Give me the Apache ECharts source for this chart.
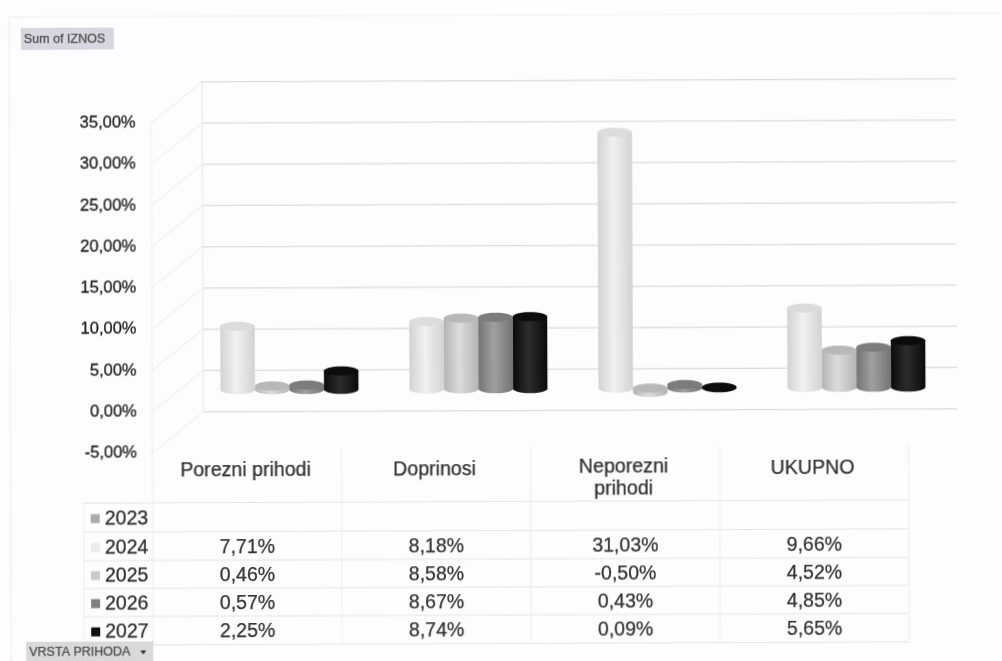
<!DOCTYPE html>
<html>
<head>
<meta charset="utf-8">
<style>
html,body{margin:0;padding:0;background:#fefcfe;overflow:hidden}
#c{width:1002px;height:661px;transform:rotate(-0.23deg);transform-origin:501px 330px;filter:blur(0.7px)}
</style>
<script src="https://cdn.jsdelivr.net/npm/echarts@6/dist/echarts.min.js"></script>
</head>
<body>
<div id="c"></div>
<script>
const categories = ['Porezni prihodi', 'Doprinosi', 'Neporezni\nprihodi', 'UKUPNO'];
const years = ['2023', '2024', '2025', '2026', '2027'];
const values2023 = [null, null, null, null];
const values2024 = [7.71, 8.18, 31.03, 9.66];
const values2025 = [0.46, 8.58, -0.50, 4.52];
const values2026 = [0.57, 8.67, 0.43, 4.85];
const values2027 = [2.25, 8.74, 0.09, 5.65];
const tickValues = [-5, 0, 5, 10, 15, 20, 25, 30, 35];
const allValues = [values2023, values2024, values2025, values2026, values2027];

const swatch = ['#ababab', '#ececec', '#cbcbcb', '#7f7f7f', '#0e0e0e'];
const bodyEdge = ['#999', '#d2d2d4', '#b4b4b4', '#737373', '#0a0a0a'];
const bodyMid = ['#bbb', '#f1f1f3', '#dcdcdc', '#a0a0a0', '#2c2c2c'];
const capCol = ['#aaa', '#dcdcde', '#b8b8b8', '#7c7c7c', '#0c0c0c'];

const fmt = v => v.toFixed(2).replace('.', ',') + '%';
const barDx = 25.5, barDy = -21.5, slot = 34.5, ry = 4.5;
const wallDx = 51, wallDy = -41;

function barSeries(i) {
  return {
    type: 'custom', name: years[i], z: 5 + i, silent: true, clip: false,
    data: allValues[i].map((v, k) => [k, v]),
    encode: { x: 0, y: 1 },
    renderItem(params, api) {
      const v = api.value(1);
      if (v === null || isNaN(v)) return null;
      const cat = api.value(0);
      const cx = api.coord([cat, 0])[0];
      const y0 = api.coord([cat, 0])[1] + barDy;
      const yv = api.coord([cat, v])[1] + barDy;
      const x = cx + barDx - slot * 2.5 + i * slot;
      const top = Math.min(y0, yv), bot = Math.max(y0, yv);
      const fill = new echarts.graphic.LinearGradient(0, 0, 1, 0, [
        { offset: 0, color: bodyEdge[i] }, { offset: 0.45, color: bodyMid[i] }, { offset: 1, color: bodyEdge[i] }
      ]);
      return { type: 'group', children: [
        { type: 'ellipse', shape: { cx: x + slot / 2, cy: bot, rx: slot / 2, ry }, style: { fill } },
        { type: 'rect', shape: { x, y: top, width: slot, height: bot - top }, style: { fill } },
        { type: 'ellipse', shape: { cx: x + slot / 2, cy: top, rx: slot / 2, ry }, style: { fill: capCol[i] } }
      ] };
    }
  };
}

const wallSeries = {
  type: 'custom', name: 'walls', z: 1, silent: true, clip: false,
  data: tickValues.map(t => [0, t]),
  encode: { y: 1 },
  renderItem(params, api) {
    const cs = params.coordSys;
    const y = api.coord([0, api.value(1)])[1];
    const xF = cs.x, xB = cs.x + wallDx, xR = cs.x + cs.width + wallDx - 2;
    const kids = [
      { type: 'line', shape: { x1: xF, y1: y, x2: xB, y2: y + wallDy }, style: { stroke: '#ececec', lineWidth: 1 } },
      { type: 'line', shape: { x1: xB, y1: y + wallDy, x2: xR, y2: y + wallDy }, style: { stroke: '#dcdcdc', lineWidth: 1.2 } }
    ];
    if (params.dataIndex === 0) {
      kids.push({ type: 'line', shape: { x1: xF, y1: cs.y, x2: xF, y2: cs.y + cs.height }, style: { stroke: '#efefef', lineWidth: 1 } });
      kids.push({ type: 'line', shape: { x1: xB, y1: cs.y + wallDy, x2: xB, y2: cs.y + cs.height + wallDy }, style: { stroke: '#e8e8e8', lineWidth: 1 } });
    }
    return { type: 'group', children: kids };
  }
};

const colX = [152, 341, 530, 719, 908];
const rowY = [501.5, 530.5, 559, 587, 615, 643.5];
const gridG = [];
const line = (x1, y1, x2, y2, c) => gridG.push({ type: 'line', silent: true, shape: { x1, y1, x2, y2 }, style: { stroke: c || '#e6e6e6', lineWidth: 1 } });
rowY.forEach(y => line(83, y, 908, y));
line(83, rowY[0], 83, rowY[5], '#eeeeee');
colX.forEach(x => line(x, 447, x, rowY[5], '#eeeeee'));
// chart frame
line(10, 15, 1002, 15, '#f0f0f0'); line(10, 15, 10, 661, '#f0f0f0');

const txt = (x, y, text, size, color, align) => ({ type: 'text', silent: true, x, y, style: {
  text, fill: color, fontSize: size, fontFamily: 'Liberation Sans', align: align || 'center', verticalAlign: 'middle', lineHeight: 22,
  stroke: color, lineWidth: 0.25 } });

const textG = [];
categories.forEach((c, k) => {
  const cx = (colX[k] + colX[k + 1]) / 2;
  textG.push(txt(cx - 1.5, c.includes('\n') ? 479 : 469.5, c, 19.6, '#2e2e2e'));
});
years.forEach((y, i) => {
  const cy = (rowY[i] + rowY[i + 1]) / 2 + 1.5;
  textG.push({ type: 'rect', silent: true, shape: { x: 90, y: cy - 5, width: 9, height: 9 }, style: { fill: swatch[i] } });
  textG.push(txt(104, cy, y, 19.5, '#2c2c2c', 'left'));
  allValues[i].forEach((v, k) => {
    if (v === null) return;
    textG.push(txt((colX[k] + colX[k + 1]) / 2, cy, fmt(v), 19.5, '#333333'));
  });
});

const buttons = [
  { type: 'rect', silent: true, shape: { x: 22, y: 26, width: 93, height: 22 }, style: { fill: '#d8d6e0' } },
  txt(25, 37.5, 'Sum of IZNOS', 12.5, '#4a4a4a', 'left'),
  { type: 'rect', silent: true, shape: { x: 25, y: 640, width: 127, height: 22 }, style: { fill: '#d9d9d9' } },
  txt(28, 651, 'VRSTA PRIHODA', 12.5, '#4a4a4a', 'left'),
  { type: 'polygon', silent: true, shape: { points: [[139, 649], [145, 649], [142, 653]] }, style: { fill: '#333' } }
];

const chart = echarts.init(document.getElementById('c'), null, { renderer: 'canvas' });
chart.setOption({
  animation: false,
  backgroundColor: 'transparent',
  grid: { left: 152, right: 94, top: 121.6, bottom: 209.4 },
  xAxis: { type: 'category', data: categories, axisLine: { show: false }, axisTick: { show: false }, axisLabel: { show: false }, splitLine: { show: false } },
  yAxis: {
    type: 'value', min: -5, max: 35, interval: 5,
    axisLine: { show: false }, axisTick: { show: false }, splitLine: { show: false },
    axisLabel: { formatter: fmt, fontSize: 16.5, fontFamily: 'Liberation Sans', color: '#1e1e1e', margin: 15.5, padding: [4, 0, 0, 0], textBorderColor: '#1e1e1e', textBorderWidth: 0.3 }
  },
  graphic: [...gridG, ...textG, ...buttons],
  series: [wallSeries, ...years.map((y, i) => barSeries(i))]
});
</script>
</body>
</html>
